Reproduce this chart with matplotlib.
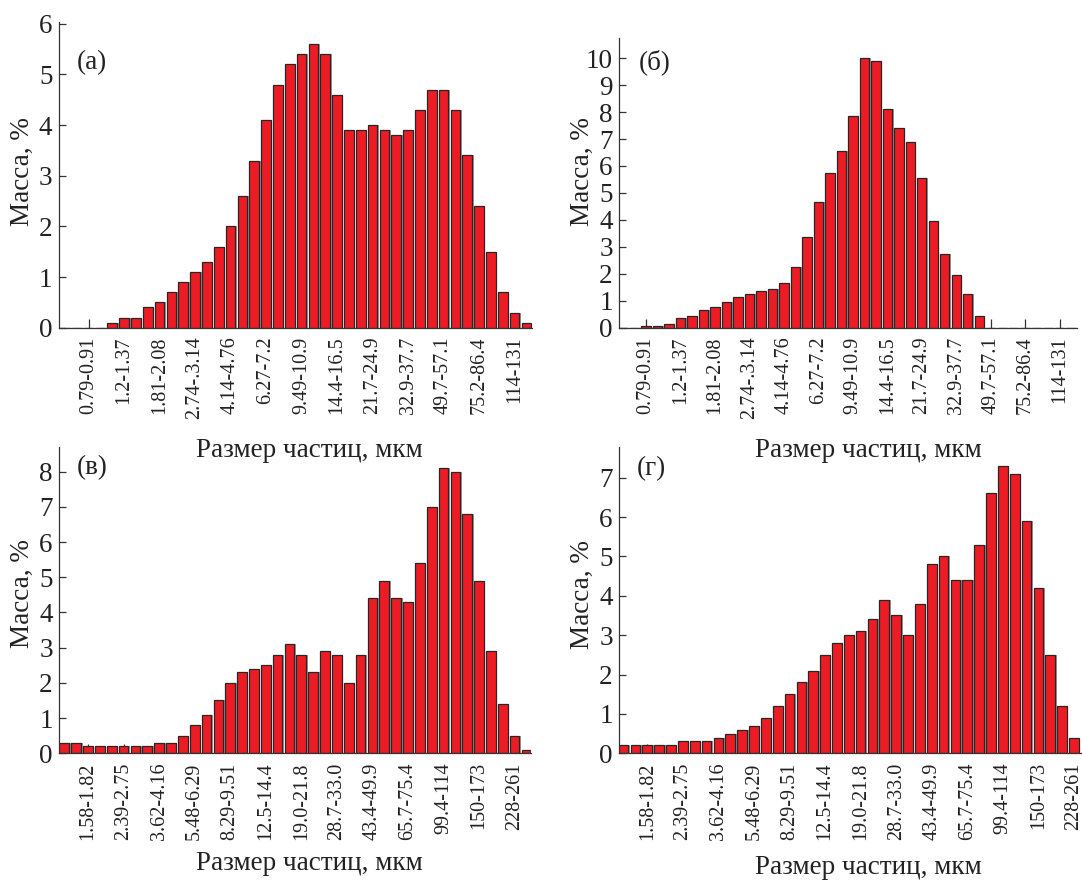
import matplotlib
matplotlib.use("Agg")
import matplotlib.pyplot as plt
import numpy as np

# ---------------- data ----------------
# panels (а) and (б): 40 size bins, labelled every third bin
ticklabels_ab = ["0.79-0.91", "1.2-1.37", "1.81-2.08", "2.74-.3.14", "4.14-4.76",
                 "6.27-7.2", "9.49-10.9", "14.4-16.5", "21.7-24.9", "32.9-37.7",
                 "49.7-57.1", "75.2-86.4", "114-131"]
mass_a = [0, 0, 0, 0, 0.1, 0.2, 0.2, 0.4, 0.5, 0.7, 0.9, 1.1, 1.3, 1.6, 2.0, 2.6,
          3.3, 4.1, 4.8, 5.2, 5.4, 5.6, 5.4, 4.6, 3.9, 3.9, 4.0, 3.9, 3.8, 3.9,
          4.3, 4.7, 4.7, 4.3, 3.4, 2.4, 1.5, 0.7, 0.3, 0.1]
mass_b = [0, 0, 0.05, 0.05, 0.15, 0.35, 0.45, 0.65, 0.75, 0.95, 1.15, 1.25, 1.35,
          1.45, 1.65, 2.25, 3.35, 4.65, 5.75, 6.55, 7.85, 10.0, 9.9, 8.1, 7.4, 6.9,
          5.55, 3.95, 2.75, 1.95, 1.25, 0.45, 0, 0, 0, 0, 0, 0, 0, 0]

# panels (в) and (г)
ticklabels_vg = ["1.58-1.82", "2.39-2.75", "3.62-4.16", "5.48-6.29", "8.29-9.51",
                 "12.5-14.4", "19.0-21.8", "28.7-33.0", "43.4-49.9", "65.7-75.4",
                 "99.4-114", "150-173", "228-261"]
mass_v = [0.3, 0.3, 0.2, 0.2, 0.2, 0.2, 0.2, 0.2, 0.3, 0.3, 0.5, 0.8, 1.1, 1.5,
          2.0, 2.3, 2.4, 2.5, 2.8, 3.1, 2.8, 2.3, 2.9, 2.8, 2.0, 2.8, 4.4, 4.9,
          4.4, 4.3, 5.4, 7.0, 8.1, 8.0, 6.8, 4.9, 2.9, 1.4, 0.5, 0.1]
mass_g = [0.2, 0.2, 0.2, 0.2, 0.2, 0.3, 0.3, 0.3, 0.4, 0.5, 0.6, 0.7, 0.9, 1.2,
          1.5, 1.8, 2.1, 2.5, 2.8, 3.0, 3.1, 3.4, 3.9, 3.5, 3.0, 3.8, 4.8, 5.0,
          4.4, 4.4, 5.3, 6.6, 7.3, 7.1, 5.9, 4.2, 2.5, 1.2, 0.4]

panel_letters = ["(а)", "(б)", "(в)", "(г)"]
ylabel = "Масса, %"
xlabel = "Размер частиц, мкм"

# ---------------- style ----------------
W, H = 1082, 881
plt.rcParams['font.family'] = ['Liberation Serif', 'DejaVu Serif']
fig = plt.figure(figsize=(W / 100, H / 100), dpi=100)

RED = '#ED1C24'
EDGE = '#262626'
SHADOW = '#9a9a9a'
AXC = '#333333'
TXT = '#222222'


def fx(x):
    return x / W


def fy(y):
    return 1 - y / H


def make_ax(x0, x1, ytop, ybot):
    return fig.add_axes([fx(x0), fy(ybot), fx(x1) - fx(x0), (ybot - ytop) / H])


def draw(ax, values, ticklabels, xlim, ylim, yticks):
    n = len(values)
    x = np.arange(n)
    # soft grey shadow to the right of each bar
    ax.bar(x + 0.13, values, width=0.82, color=SHADOW, linewidth=0, zorder=1.5)
    ax.bar(x, values, width=0.82, color=RED, edgecolor=EDGE, linewidth=0.9,
           zorder=2)
    ax.set_xlim(*xlim)
    ax.set_ylim(*ylim)
    ax.set_xticks(np.arange(2, 2 + 3 * len(ticklabels), 3)[:len(ticklabels)])
    ax.set_xticklabels(ticklabels, rotation=90, fontsize=14.5)
    ax.set_yticks(yticks)
    ax.set_yticklabels([str(t) for t in yticks], fontsize=19.5)
    for s in ['top', 'right']:
        ax.spines[s].set_visible(False)
    for s in ['left', 'bottom']:
        ax.spines[s].set_color(AXC)
        ax.spines[s].set_linewidth(0.9)
        ax.spines[s].set_zorder(3)
    ax.tick_params(axis='x', direction='in', length=6.5, width=0.9, color=AXC,
                   pad=6.5, labelcolor=TXT)
    ax.tick_params(axis='y', direction='in', length=5, width=0.9, color=AXC,
                   pad=4.5, labelcolor=TXT)
    for t in ax.get_xticklines():
        t.set_zorder(4)


ax_a = make_ax(58.7, 532.3, 21.7, 327.7)
draw(ax_a, mass_a, ticklabels_ab, (-0.53, 39.5), (0, 6.04), list(range(0, 7)))

ax_b = make_ax(619, 1076.9, 37.7, 327.7)
draw(ax_b, mass_b, ticklabels_ab, (-0.35, 39.5), (0, 10.76), list(range(0, 11)))

ax_v = make_ax(59, 531.2, 446.7, 753.3)
draw(ax_v, mass_v, ticklabels_vg, (-0.45, 39.4), (0, 8.71), list(range(0, 9)))

ax_g = make_ax(619, 1082, 447.3, 753.3)
draw(ax_g, mass_g, ticklabels_vg, (-0.39, 38.68), (0, 7.77), list(range(0, 8)))

# panel letters
for (px, py), s in zip([(77, 63), (639, 62), (77, 468), (637, 469)], panel_letters):
    fig.text(fx(px), fy(py), s, fontsize=19.5, ha='left', va='center', color=TXT)

# y labels
for (px, py) in [(22, 172), (582, 172), (22, 594), (582, 595)]:
    fig.text(fx(px), fy(py), ylabel, fontsize=19.5, rotation=90, ha='center',
             va='center', color=TXT)

# x labels
for (px, py) in [(309, 450), (868, 450), (309, 863), (868, 867)]:
    fig.text(fx(px), fy(py), xlabel, fontsize=19.5, ha='center', va='center',
             color=TXT)

fig.savefig("out.png", dpi=100)
